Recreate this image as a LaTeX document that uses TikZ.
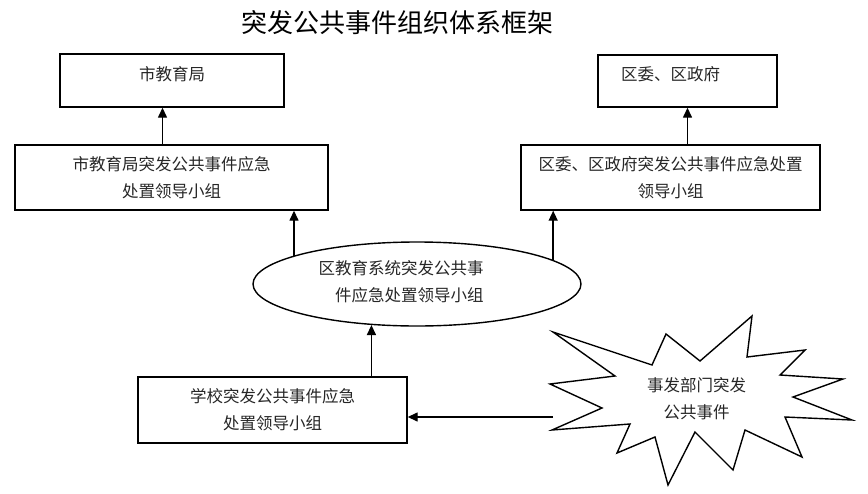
\documentclass[tikz,border=0pt]{standalone}
\usepackage{fontspec}
\setmainfont{Noto Sans CJK SC}
\usetikzlibrary{arrows.meta,shapes.geometric}

\begin{document}
\begin{tikzpicture}[x=1pt,y=-1pt,
    box/.style={draw,line width=1.4pt,rectangle,inner sep=0pt},
    txt/.style={font=\fontsize{16.5}{27}\selectfont,align=center,text=black!85},
    arr/.style={-{Triangle[length=10pt,width=9pt]},line width=1.4pt}]
    \useasboundingbox (0,0) rectangle (868,493);

    \node[font=\fontsize{26}{30}\selectfont] (title) at (397,23) {突发公共事件组织体系框架};

    \node[box,minimum width=224pt,minimum height=53pt,
          label={[txt,yshift=6.5pt]center:市教育局}] (city) at (172,80.5) {};
    \node[box,minimum width=179pt,minimum height=52pt,
          label={[txt,xshift=-17pt,yshift=7pt]center:区委、区政府}] (district) at (687.5,81) {};

    \node[box,txt,minimum width=313pt,minimum height=65pt] (cityGrp) at (171.5,177.5)
          {市教育局突发公共事件应急\\处置领导小组};
    \node[box,txt,minimum width=299pt,minimum height=65pt] (districtGrp) at (670.5,177.5)
          {区委、区政府突发公共事件应急处置\\领导小组};

    \node[draw,ellipse,line width=1.4pt,inner sep=0pt,minimum width=328pt,minimum height=84pt,
          label={[txt,align=right,xshift=-16pt,yshift=2pt]center:区教育系统突发公共事\\件应急处置领导小组}] (ell) at (417,284) {};

    \node[box,txt,minimum width=269pt,minimum height=66pt] (school) at (272.5,410)
          {学校突发公共事件应急\\处置领导小组};

    % starburst
    \draw[line width=1.4pt,line join=miter] (553,332) -- (652,365) -- (666,334) -- (700,361)
          -- (752,316) -- (747,357) -- (805,350) -- (780,375) -- (843,379) -- (793,397)
          -- (852,420) -- (785,417) -- (802,457) -- (745,430) -- (733,470) -- (695,432)
          -- (668,485) -- (655,437) -- (617,453) -- (630,424) -- (552,430) -- (602,408)
          -- (550,384) -- (615,376) -- cycle;
    \node[txt] (burst) at (696.5,398.5) {事发部门突发\\公共事件};
    \coordinate (burstL) at (553,417);

    % arrows
    \draw[arr] ([xshift=-9pt]cityGrp.north) -- ([xshift=-9pt]cityGrp.north |- city.south);
    \draw[arr] (districtGrp.north -| district.south) -- (district.south);
    \draw[arr] (ell.167) -- (ell.167 |- cityGrp.south);
    \draw[arr] (ell.10) -- (ell.10 |- districtGrp.south);
    \draw[arr] (school.north -| ell.222) -- (ell.222);
    \draw[arr] (burstL) -- (burstL -| school.east);

\end{tikzpicture}
\end{document}
